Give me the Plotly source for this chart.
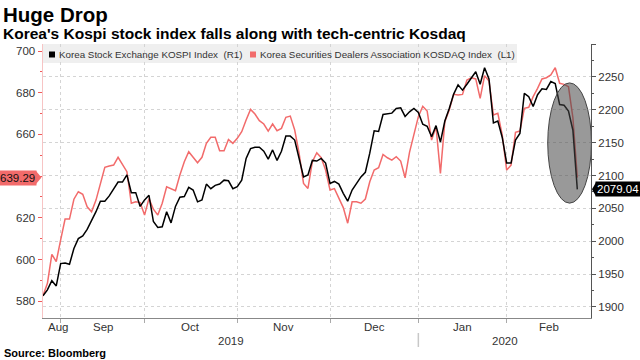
import numpy as np
import plotly.graph_objects as go

# ---------------- data ----------------
month_labels = ["Aug", "Sep", "Oct", "Nov", "Dec", "Jan", "Feb"]
days_per_month = [5, 19, 21, 21, 20, 20, 16]          # trading days shown per month
year_labels = ["2019", "2020"]
months_per_year = [5, 2]

kospi = [1917, 1926, 1940, 1932, 1966, 1967, 1965, 1989, 2004, 2008,
         2018, 2031, 2045, 2061, 2061, 2069, 2079, 2090, 2090, 2101,
         2074, 2074, 2053, 2063, 2070, 2030, 2021, 2022, 2045, 2028,
         2053, 2067, 2068, 2082, 2078, 2060, 2063, 2087, 2080, 2085,
         2087, 2093, 2092, 2080, 2083, 2093, 2126, 2141, 2143, 2143,
         2137, 2125, 2139, 2123, 2137, 2160, 2160, 2154, 2126, 2098,
         2101, 2123, 2122, 2126, 2119, 2088, 2091, 2087, 2073, 2061,
         2078, 2088, 2098, 2105, 2134, 2168, 2167, 2193, 2194, 2195,
         2202, 2203, 2190, 2197, 2202, 2196, 2178, 2175, 2159, 2176,
         2151, 2183, 2202, 2224, 2238, 2230, 2239, 2248, 2258, 2239,
         2264, 2247, 2180, 2183, 2158, 2119, 2119, 2154, 2164, 2225,
         2220, 2205, 2223, 2232, 2231, 2243, 2240, 2208, 2207, 2198,
         2169, 2079.04]

kosdaq = [582.6, 588.6, 602.5, 599.0, 609.4, 619.4, 619.4, 628.9, 632.5, 631.3,
          625.3, 622.9, 628.5, 636.5, 644.2, 644.8, 645.3, 649.0, 645.3, 642.1,
          627.0, 627.7, 627.3, 621.3, 629.3, 624.1, 621.3, 627.0, 634.9, 634.1,
          633.0, 640.5, 646.9, 651.7, 649.3, 646.4, 649.0, 655.7, 658.6, 658.6,
          652.2, 652.2, 657.6, 655.7, 658.1, 661.3, 666.9, 672.0, 669.8, 666.6,
          665.0, 661.6, 665.0, 661.8, 662.9, 668.2, 668.8, 662.1, 650.9, 636.5,
          634.1, 646.9, 651.2, 648.8, 642.9, 633.3, 634.0, 629.3, 624.9, 617.4,
          627.7, 627.7, 627.0, 629.0, 637.3, 642.9, 644.0, 650.4, 648.8, 647.7,
          649.3, 647.2, 639.2, 651.4, 659.7, 668.5, 673.5, 671.2, 657.3, 663.7,
          641.3, 666.1, 671.7, 679.2, 678.9, 679.2, 686.1, 687.2, 686.6, 677.3,
          688.2, 685.6, 669.3, 670.1, 659.7, 642.9, 645.3, 661.0, 661.6, 672.5,
          673.0, 678.1, 682.1, 686.6, 687.2, 688.5, 692.0, 684.5, 684.0, 682.9,
          668.0, 639.29]

left_ticks = [580, 600, 620, 640, 660, 680, 700]
right_ticks = [1900, 1950, 2000, 2050, 2100, 2150, 2200, 2250, 2300]

kospi_name = "Korea Stock Exchange KOSPI Index\u00a0\u00a0(R1)"
kosdaq_name = "Korea Securities Dealers Association KOSDAQ Index\u00a0\u00a0(L1)"

# ---------------- layout helpers ----------------
W, H = 640, 360
ML, MR, MT, MB = 43, 49, 44, 42
PW, PH = W - ML - MR, H - MT - MB
FONT = "Liberation Sans, Arial, sans-serif"
BLACK = "#000000"
RED = "#f26b6b"


def px(xp):
    return (xp - ML) / PW


def py(yp):
    return (H - MB - yp) / PH


n = len(kospi)
xs = list(range(n))
ends = np.cumsum(days_per_month) - 1
bounds_grid = [int(e) for e in ends[:-1]]
x_max = n - 1 + 3.1
edges = [0] + bounds_grid + [x_max]
centers = [(edges[k] + edges[k + 1]) / 2 for k in range(len(month_labels))]
centers[0] = max(centers[0], 3.3)
year_end_idx = [int(ends[sum(months_per_year[:k + 1]) - 1]) for k in range(len(year_labels))]
year_edges = [0] + year_end_idx[:-1] + [x_max]
year_centers = [(year_edges[k] + year_edges[k + 1]) / 2 for k in range(len(year_labels))]

fig = go.Figure()
fig.add_trace(go.Scatter(x=xs, y=kospi, yaxis="y2", mode="lines", name=kospi_name,
                         line=dict(color=BLACK, width=1.5), showlegend=False))
fig.add_trace(go.Scatter(x=xs, y=kosdaq, yaxis="y", mode="lines", name=kosdaq_name,
                         line=dict(color=RED, width=1.5), showlegend=False))

shapes = []
annotations = []

# legend box and entries
shapes.append(dict(type="rect", xref="paper", yref="paper", x0=0, x1=px(517),
                   y0=py(63), y1=1, fillcolor="#efefef", line=dict(width=0), layer="between"))
shapes.append(dict(type="rect", xref="paper", yref="paper", x0=px(49), x1=px(55),
                   y0=py(57.5), y1=py(51.5), fillcolor=BLACK, line=dict(width=0)))
shapes.append(dict(type="rect", xref="paper", yref="paper", x0=px(250), x1=px(256),
                   y0=py(57.5), y1=py(51.5), fillcolor=RED, line=dict(width=0)))
annotations.append(dict(text=kospi_name, xref="paper", yref="paper", x=px(57), y=py(54.5),
                        xanchor="left", yanchor="middle", showarrow=False,
                        font=dict(family=FONT, size=9.8, color="#333")))
annotations.append(dict(text=kosdaq_name, xref="paper", yref="paper", x=px(258), y=py(54.5),
                        xanchor="left", yanchor="middle", showarrow=False,
                        font=dict(family=FONT, size=9.8, color="#333")))

# highlight ellipse
shapes.append(dict(type="circle", xref="x", yref="y2", x0=114.3, x1=124.2,
                   y0=2058, y1=2241, fillcolor="rgba(70,70,70,0.55)",
                   line=dict(color="#444", width=1), layer="above"))

# last value tags
shapes.append(dict(type="path", xref="paper", yref="y", xsizemode="pixel", ysizemode="pixel",
                   xanchor=0, yanchor=kosdaq[-1], path="M -7,-6.5 L -1.5,0 L -7,6.5 Z",
                   fillcolor=RED, line=dict(width=0)))
annotations.append(dict(text=f"{kosdaq[-1]:.2f}", xref="paper", yref="y", x=0, y=kosdaq[-1],
                        xanchor="right", yanchor="middle", xshift=-6, showarrow=False,
                        bgcolor=RED, borderpad=1,
                        font=dict(family=FONT, size=11.5, color="#111")))
shapes.append(dict(type="path", xref="paper", yref="y2", xsizemode="pixel", ysizemode="pixel",
                   xanchor=1, yanchor=kospi[-1], path="M 1,0 L 5,-7 L 5,7 Z",
                   fillcolor=BLACK, line=dict(width=0)))
annotations.append(dict(text=f"{kospi[-1]:.2f}", xref="paper", yref="y2", x=1, y=kospi[-1],
                        xanchor="left", yanchor="middle", xshift=4, showarrow=False,
                        bgcolor=BLACK, borderpad=1,
                        font=dict(family=FONT, size=11.5, color="#ffffff")))

# month and year labels
for lab, c in zip(month_labels, centers):
    annotations.append(dict(text=lab, xref="x", yref="paper", x=c, y=py(327),
                            xanchor="center", yanchor="middle", showarrow=False,
                            font=dict(family=FONT, size=11.5, color="#333")))
for lab, c in zip(year_labels, year_centers):
    annotations.append(dict(text=lab, xref="x", yref="paper", x=c, y=py(341),
                            xanchor="center", yanchor="middle", showarrow=False,
                            font=dict(family=FONT, size=11.5, color="#333")))
for e in year_end_idx[:-1]:
    shapes.append(dict(type="line", xref="x", yref="paper", x0=e, x1=e,
                       y0=py(333), y1=py(347), line=dict(color="#c8c8c8", width=1.5)))

# titles and source
annotations.append(dict(text="Huge Drop", xref="paper", yref="paper", x=px(1), y=py(14),
                        xanchor="left", yanchor="middle", showarrow=False,
                        font=dict(family=FONT, size=20.5, color="#000", weight="bold")))
annotations.append(dict(text="Korea's Kospi stock index falls along with tech-centric Kosdaq",
                        xref="paper", yref="paper", x=px(1), y=py(33),
                        xanchor="left", yanchor="middle", showarrow=False,
                        font=dict(family=FONT, size=15.5, color="#000", weight="bold")))
annotations.append(dict(text="Source: Bloomberg", xref="paper", yref="paper", x=px(2), y=py(353),
                        xanchor="left", yanchor="middle", showarrow=False,
                        font=dict(family=FONT, size=11, color="#000", weight="bold")))

fig.update_layout(
    width=W, height=H,
    margin=dict(l=ML, r=MR, t=MT, b=MB),
    paper_bgcolor="white", plot_bgcolor="white",
    showlegend=False,
    shapes=shapes, annotations=annotations,
    xaxis=dict(range=[0, x_max], tickvals=bounds_grid, showticklabels=False,
               ticks="outside", ticklen=4, tickcolor="#aaaaaa",
               showgrid=True, gridcolor="#d4d4d4", griddash="dot", gridwidth=1,
               showline=True, linecolor="#888888", linewidth=1, zeroline=False),
    yaxis=dict(range=[571.94, 703.36], tickvals=left_ticks,
               ticktext=["" if abs(v - kosdaq[-1]) < 5 else str(v) for v in left_ticks],
               ticks="outside", ticklen=4, tickcolor="#f05a5a",
               minor=dict(dtick=10, ticks="outside", ticklen=2, tickcolor="#f05a5a"),
               showline=True, linecolor="#f7c4c4", linewidth=1.5,
               showgrid=False, zeroline=False,
               tickfont=dict(family=FONT, size=11.5, color="#333")),
    yaxis2=dict(range=[1883.2, 2300.2], overlaying="y", side="right",
                tickvals=right_ticks,
                ticktext=[str(v) if v < 2300 else "" for v in right_ticks],
                ticks="outside", ticklen=4, tickcolor="#555",
                minor=dict(dtick=25, ticks="outside", ticklen=2, tickcolor="#555"),
                showline=True, linecolor="#555555", linewidth=1,
                showgrid=True, gridcolor="#d4d4d4", griddash="dot", gridwidth=1,
                zeroline=False,
                tickfont=dict(family=FONT, size=11.5, color="#333")),
)

fig.write_html("out.html", config={"displayModeBar": False, "staticPlot": True},
               post_script="document.body.style.margin='0px';document.body.style.overflow='hidden';")
